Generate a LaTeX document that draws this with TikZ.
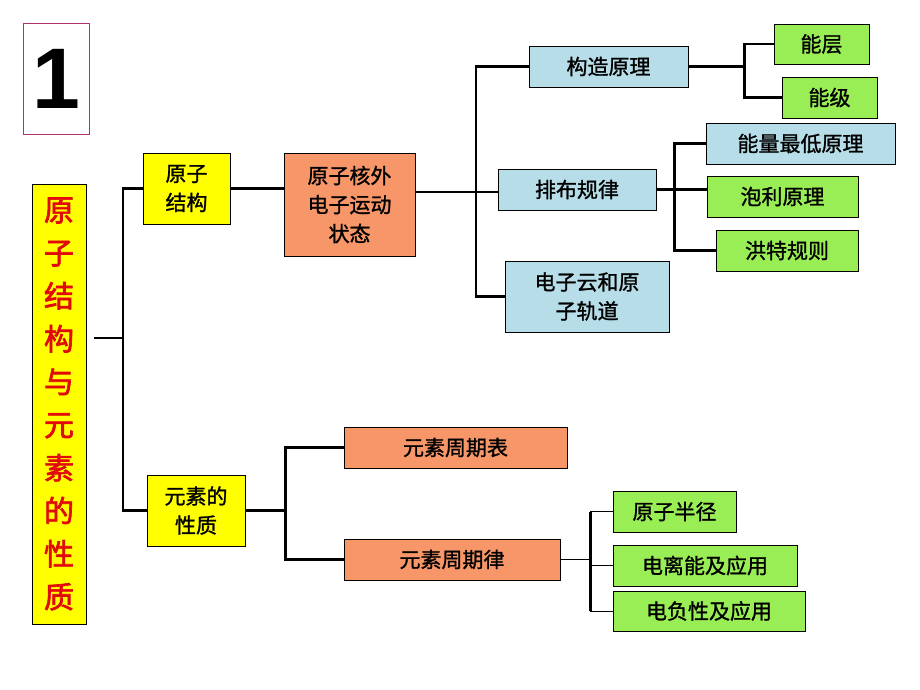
\documentclass[tikz,border=0pt]{standalone}
\usepackage{fontspec}
\newfontfamily\cjk{Noto Sans CJK SC}[FakeBold=1.2]
\newfontfamily\cjkbold{Noto Sans CJK SC}[FakeBold=2.2]
\newfontfamily\numfont{Liberation Sans}
\usetikzlibrary{positioning}

\definecolor{boxyellow}{RGB}{255,255,0}
\definecolor{boxorange}{RGB}{247,150,104}
\definecolor{boxblue}{RGB}{183,222,232}
\definecolor{boxgreen}{RGB}{153,238,85}
\definecolor{framepink}{RGB}{176,48,112}
\definecolor{titlered}{RGB}{225,10,10}

\begin{document}
\begin{tikzpicture}
[
  x=1pt, y=-1pt,
  box/.style = {draw, line width=0.9pt, inner sep=0pt, align=center,
                font=\cjk\fontsize{21}{29}\selectfont},
  yel/.style = {box, fill=boxyellow},
  ora/.style = {box, fill=boxorange},
  blu/.style = {box, fill=boxblue},
  gre/.style = {box, fill=boxgreen},
  link/.style = {line width=2.8pt},
  thinlink/.style = {line width=1pt},
]
\useasboundingbox (0,0) rectangle (920,690);

%number frame
\node[draw=framepink, line width=0.8pt, minimum width=66, minimum height=111,
      font=\numfont\bfseries\fontsize{86}{86}\selectfont] (num) at (56,78.5) {1};

%title
\node[yel, minimum width=54, minimum height=440, text=titlered,
      font=\cjkbold\fontsize{30}{43}\selectfont] (title) at (59,404)
  {原\\子\\结\\构\\与\\元\\素\\的\\性\\质};

%first level
\node[yel, minimum width=87, minimum height=71] (jg) at (186.5,188.5) {原子\\结构};
\node[yel, minimum width=98, minimum height=71] (xz) at (196,510.5) {元素的\\性质};

%atomic structure
\node[ora, minimum width=131, minimum height=103] (hw) at (349.5,204.5) {原子核外\\电子运动\\状态};
\node[blu, minimum width=159, minimum height=41] (gz) at (608.5,66.5) {构造原理};
\node[blu, minimum width=158, minimum height=41] (pb) at (577,189.5) {排布规律};
\node[blu, minimum width=164, minimum height=71] (dz) at (587,296.5) {电子云和原\\子轨道};
\node[gre, minimum width=95, minimum height=40] (nc) at (821.5,44) {能层};
\node[gre, minimum width=95, minimum height=41] (nj) at (829.5,97.5) {能级};
\node[blu, minimum width=189, minimum height=41] (zd) at (800.5,143.5) {能量最低原理};
\node[gre, minimum width=151, minimum height=41] (pl) at (782.5,196.5) {泡利原理};
\node[gre, minimum width=142, minimum height=41] (ht) at (787,250.5) {洪特规则};

%element properties
\node[ora, minimum width=223, minimum height=41] (zqb) at (455.5,447.5) {元素周期表};
\node[ora, minimum width=216, minimum height=41] (zql) at (452,559.5) {元素周期律};
\node[gre, minimum width=123, minimum height=41] (bj) at (674.5,511.5) {原子半径};
\node[gre, minimum width=184, minimum height=41] (dl) at (705,565.5) {电离能及应用};
\node[gre, minimum width=192, minimum height=40] (df) at (709,611) {电负性及应用};

%connectors
\coordinate (t0) at (123,338);
\coordinate (r0) at (94,338);
\draw[link] (r0) -- (t0);
\draw[link] (jg.west) -| (t0) |- (xz.west);
\draw[link] (jg.east) -- (jg.east -| hw.west);

\coordinate (t1) at (476,192);
\draw[link] (hw.east |- t1) -- (t1 -| pb.west);
\draw[link] (gz.west) -| (t1) |- (dz.west);

\draw[link] (gz.east) -- ++(56,0) coordinate (t2);
\draw[link] (nc.west) -| (t2) |- (nj.west);

\draw[link] (pb.east) -- ++(18,0) coordinate (t3);
\draw[link] (zd.west) -| (t3) |- (ht.west);
\draw[link] (t3) -- (t3 -| pl.west);

\draw[link] (xz.east) -- ++(40,0) coordinate (t4);
\draw[link] (zqb.west) -| (t4) |- (zql.west);

\draw[thinlink] (zql.east) -- ++(30,0) coordinate (t5);
\draw[link] (t5 |- bj.west) -- (t5 |- df.west);
\draw[thinlink] (t5 |- bj.west) -- (bj.west);
\draw[thinlink] (t5 |- dl.west) -- (dl.west);
\draw[thinlink] (t5 |- df.west) -- (df.west);
\end{tikzpicture}
\end{document}
